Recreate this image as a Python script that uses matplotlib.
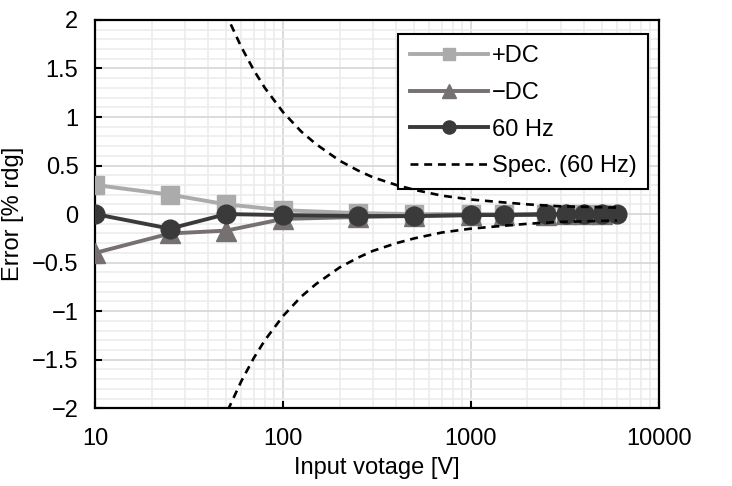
import matplotlib.pyplot as plt
from matplotlib.ticker import FixedLocator, FuncFormatter, NullFormatter
import numpy as np

plt.rcParams['font.family'] = ['Liberation Sans', 'DejaVu Sans']

# Measured errors [% rdg]
volt_dc = [10, 25, 50, 100, 250, 500, 1000, 1500, 2500, 3200, 4000, 5000]
err_plus_dc = [0.30, 0.20, 0.10, 0.04, 0.01, 0.00, 0.00, 0.00, 0.00, 0.00, 0.00, 0.00]
err_minus_dc = [-0.40, -0.20, -0.17, -0.05, -0.03, -0.02, -0.01, -0.01, -0.01, 0.00, 0.00, 0.00]

volt_ac = [10, 25, 50, 100, 250, 500, 1000, 1500, 2500, 3200, 4000, 5000, 6000]
err_60hz = [0.00, -0.15, 0.00, -0.01, -0.02, -0.02, -0.01, -0.01, 0.00, 0.00, 0.00, 0.00, 0.00]

# Spec limit (60 Hz)
volt_spec = [40, 50, 60, 70, 80, 100, 125, 150, 200, 250, 300, 400, 500, 700,
             1000, 1500, 2000, 3000, 4000, 5000, 6000]
spec_60hz = [2.55, 2.05, 1.72, 1.48, 1.30, 1.05, 0.85, 0.72, 0.55, 0.45, 0.38,
             0.30, 0.25, 0.19, 0.15, 0.12, 0.10, 0.08, 0.075, 0.07, 0.067]

fig = plt.figure(figsize=(7.32, 4.86), dpi=100)
ax = fig.add_axes([0.130, 0.160, 0.770, 0.799])

ax.plot(volt_dc, err_plus_dc, color='#ababab', lw=2.8, marker='s', ms=12.5,
        label='+DC', zorder=3)
ax.plot(volt_dc, err_minus_dc, color='#767070', lw=2.8, marker='^', ms=14,
        label='\u2212DC', zorder=4)
ax.plot(volt_ac, err_60hz, color='#3a3a3a', lw=2.8, marker='o', ms=13.5,
        label='60 Hz', zorder=5)
ax.plot(volt_spec, spec_60hz, color='black', lw=1.9, dashes=(3, 2.2),
        label='Spec. (60 Hz)', zorder=6)
ax.plot(volt_spec, [-v for v in spec_60hz], color='black', lw=1.9,
        dashes=(3, 2.2), zorder=6)

ax.set_xscale('log')
ax.set_xlim(10, 10000)
ax.set_ylim(-2, 2)

ax.xaxis.set_major_locator(FixedLocator([10, 100, 1000, 10000]))
ax.xaxis.set_major_formatter(FuncFormatter(lambda v, p: f'{v:g}'))
minor_x = [m * 10 ** d for d in range(1, 4) for m in range(2, 10)]
ax.xaxis.set_minor_locator(FixedLocator(minor_x))
ax.xaxis.set_minor_formatter(NullFormatter())

ax.yaxis.set_major_locator(FixedLocator(np.arange(-2, 2.01, 0.5)))
ax.yaxis.set_major_formatter(FuncFormatter(lambda v, p: f'{v:g}'.replace('-', '\u2212')))
ax.yaxis.set_minor_locator(FixedLocator(np.arange(-2, 2.01, 0.1)))

ax.grid(True, which='major', color='#d6d6d6', lw=1.2)
ax.grid(True, which='minor', color='#ececec', lw=1.2)
ax.set_axisbelow(True)

ax.tick_params(which='major', direction='in', length=5, width=1.5,
               labelsize=17)
ax.tick_params(axis='y', pad=12)
ax.tick_params(axis='x', pad=14)
ax.tick_params(which='minor', length=0)
for s in ax.spines.values():
    s.set_linewidth(1.6)
    s.set_color('black')

ax.set_xlabel('Input votage [V]', fontsize=17, labelpad=5)
ax.set_ylabel('Error [% rdg]', fontsize=17, labelpad=6)

leg = ax.legend(loc='upper right', bbox_to_anchor=(0.981, 0.965), fontsize=17,
                frameon=True, fancybox=False, edgecolor='black',
                handlelength=3.3, labelspacing=0.62, borderpad=0.5,
                handletextpad=0.15, markerscale=0.7, framealpha=1,
                borderaxespad=0)
leg.get_frame().set_linewidth(1.5)

fig.savefig('out.png', dpi=100)
